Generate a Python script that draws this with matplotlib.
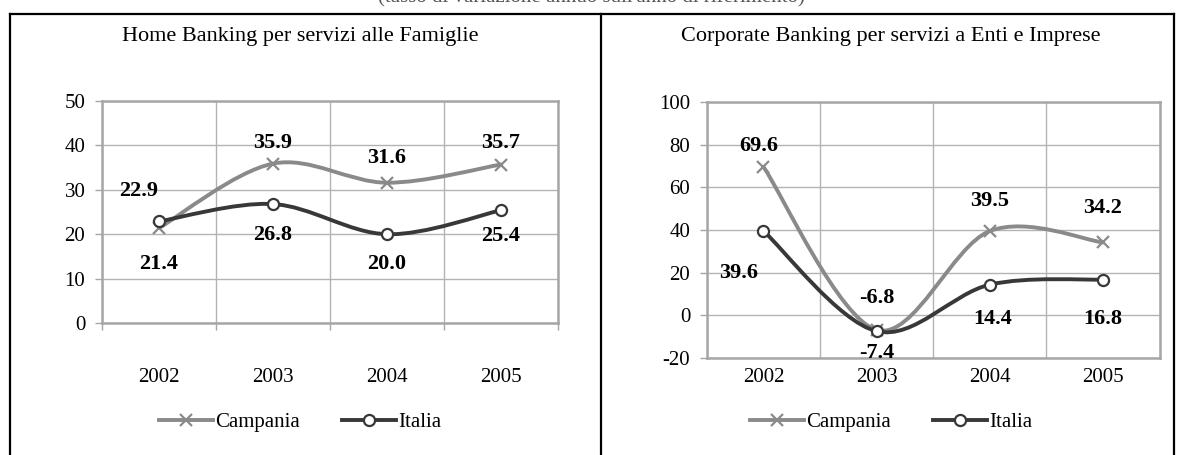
import matplotlib
matplotlib.use("Agg")
import matplotlib.pyplot as plt
from matplotlib.path import Path
from matplotlib.patches import PathPatch
from matplotlib.lines import Line2D
from matplotlib.transforms import blended_transform_factory
import numpy as np

plt.rcParams['font.family'] = ['Liberation Serif', 'DejaVu Serif']
plt.rcParams['axes.unicode_minus'] = False

years = ['2002', '2003', '2004', '2005']

# Home Banking (famiglie)
home_campania = [21.4, 35.9, 31.6, 35.7]
home_italia = [22.9, 26.8, 20.0, 25.4]
# Corporate Banking (enti e imprese)
corp_campania = [69.6, -6.8, 39.5, 34.2]
corp_italia = [39.6, -7.4, 14.4, 16.8]

# label offsets in pixels (dx, dy), dy positive = downwards
home_camp_off = [(0, 36), (0, -21), (0, -25), (0, -22)]
home_ita_off = [(-20, -30), (0, 31), (0, 30), (0, 26)]
corp_camp_off = [(-5, -21), (0, -32), (0, -30), (0, -34)]
corp_ita_off = [(-25, 42), (0, 22), (3, 34), (0, 39)]

C_CAMP = '#8a8a8a'
C_ITA = '#383838'
C_GRID = '#b3b3b3'


def smooth_path(xs, ys):
    # Bezier curve through the points (Excel-style smoothing)
    pts = np.column_stack([xs, ys]).astype(float)
    n = len(pts)
    verts = [pts[0]]
    codes = [Path.MOVETO]
    for i in range(n - 1):
        p0 = pts[max(i - 1, 0)]
        p1 = pts[i]
        p2 = pts[i + 1]
        p3 = pts[min(i + 2, n - 1)]
        c1 = p1 + (p2 - p0) / 6.0
        c2 = p2 - (p3 - p1) / 6.0
        verts += [c1, c2, p2]
        codes += [Path.CURVE4] * 3
    return Path(verts, codes)


def draw_panel(ax, camp, ita, camp_off, ita_off, ylim, ystep, xlab_y):
    x = np.arange(len(years))
    for vals, col, mk, off in [(camp, C_CAMP, 'x', camp_off), (ita, C_ITA, 'o', ita_off)]:
        ax.add_patch(PathPatch(smooth_path(x, vals), facecolor='none',
                               edgecolor=col, lw=2.8, zorder=3, capstyle='round'))
        if mk == 'x':
            ax.plot(x, vals, linestyle='none', marker='x', ms=9, mew=1.6,
                    color=col, zorder=4)
        else:
            ax.plot(x, vals, linestyle='none', marker='o', ms=8, mew=1.6,
                    mfc='white', mec=col, zorder=4)
        for xi, v, (dx, dy) in zip(x, vals, off):
            ax.annotate(f'{v:.1f}', (xi, v), xytext=(dx / 1.389, -dy / 1.389),
                        textcoords='offset points', ha='center', va='center',
                        fontsize=16, fontweight='bold', color='black', zorder=5)

    ax.set_xlim(-0.5, len(years) - 0.5)
    ax.set_ylim(*ylim)
    ax.set_yticks(np.arange(ylim[0], ylim[1] + 1, ystep))
    ax.set_xticks(np.arange(-0.5, len(years), 1.0))
    ax.set_xticklabels([])
    ax.grid(True, color=C_GRID, lw=1.0, zorder=0)
    for sp in ax.spines.values():
        sp.set_color('#a6a6a6')
        sp.set_linewidth(1.8)
    ax.tick_params(axis='y', length=5, width=1, color='#a6a6a6', pad=7, labelsize=15)
    if ylim[0] == 0:
        ax.tick_params(axis='x', length=5, width=1, color='#a6a6a6')
    else:
        ax.tick_params(axis='x', length=0)
    trans = blended_transform_factory(ax.transData, ax.figure.transFigure)
    for xi, yr in zip(x, years):
        ax.text(xi, xlab_y, yr, transform=trans, ha='center', va='center', fontsize=15)


fig = plt.figure(figsize=(11.82, 4.55), dpi=100)

ax1 = fig.add_axes([0.0863, 0.290, 0.3858, 0.488])
ax2 = fig.add_axes([0.598, 0.213, 0.383, 0.563])

draw_panel(ax1, home_campania, home_italia, home_camp_off, home_ita_off,
           (0, 50), 10, 1 - 378 / 455)
draw_panel(ax2, corp_campania, corp_italia, corp_camp_off, corp_ita_off,
           (-20, 100), 20, 1 - 378 / 455)

fig.text(0.2538, 1 - 37 / 455, 'Home Banking per servizi alle Famiglie',
         ha='center', va='center', fontsize=16)
fig.text(0.7538, 1 - 37 / 455, 'Corporate Banking per servizi a Enti e Imprese',
         ha='center', va='center', fontsize=16)

# heading above the frame, mostly cut by the top edge
fig.text(0.5, 1 - 2 / 455, "(tasso di variazione annuo sull'anno di riferimento)",
         ha='center', va='baseline', fontsize=15, color='#555555')

handles = [Line2D([], [], color=C_CAMP, lw=2.8, marker='x', ms=9, mew=1.6),
           Line2D([], [], color=C_ITA, lw=2.8, marker='o', ms=8, mew=1.6,
                  mfc='white', mec=C_ITA)]
for cx in (0.2538, 0.7538):
    fig.legend(handles, ['Campania', 'Italia'], loc='center',
               bbox_to_anchor=(cx, 1 - 422 / 455), ncol=2, frameon=False,
               fontsize=15, handlelength=2.6, handletextpad=0.1,
               columnspacing=2.0)

# outer frame with divider
for (x0, y0, x1, y1) in [(10, 14, 1174, 14), (10, 14, 10, 460), (1174, 14, 1174, 460),
                         (601, 14, 601, 460)]:
    fig.add_artist(Line2D([x0 / 1182, x1 / 1182], [1 - y0 / 455, 1 - y1 / 455],
                          color='black', lw=1.6))

fig.savefig('out.png', dpi=100)
